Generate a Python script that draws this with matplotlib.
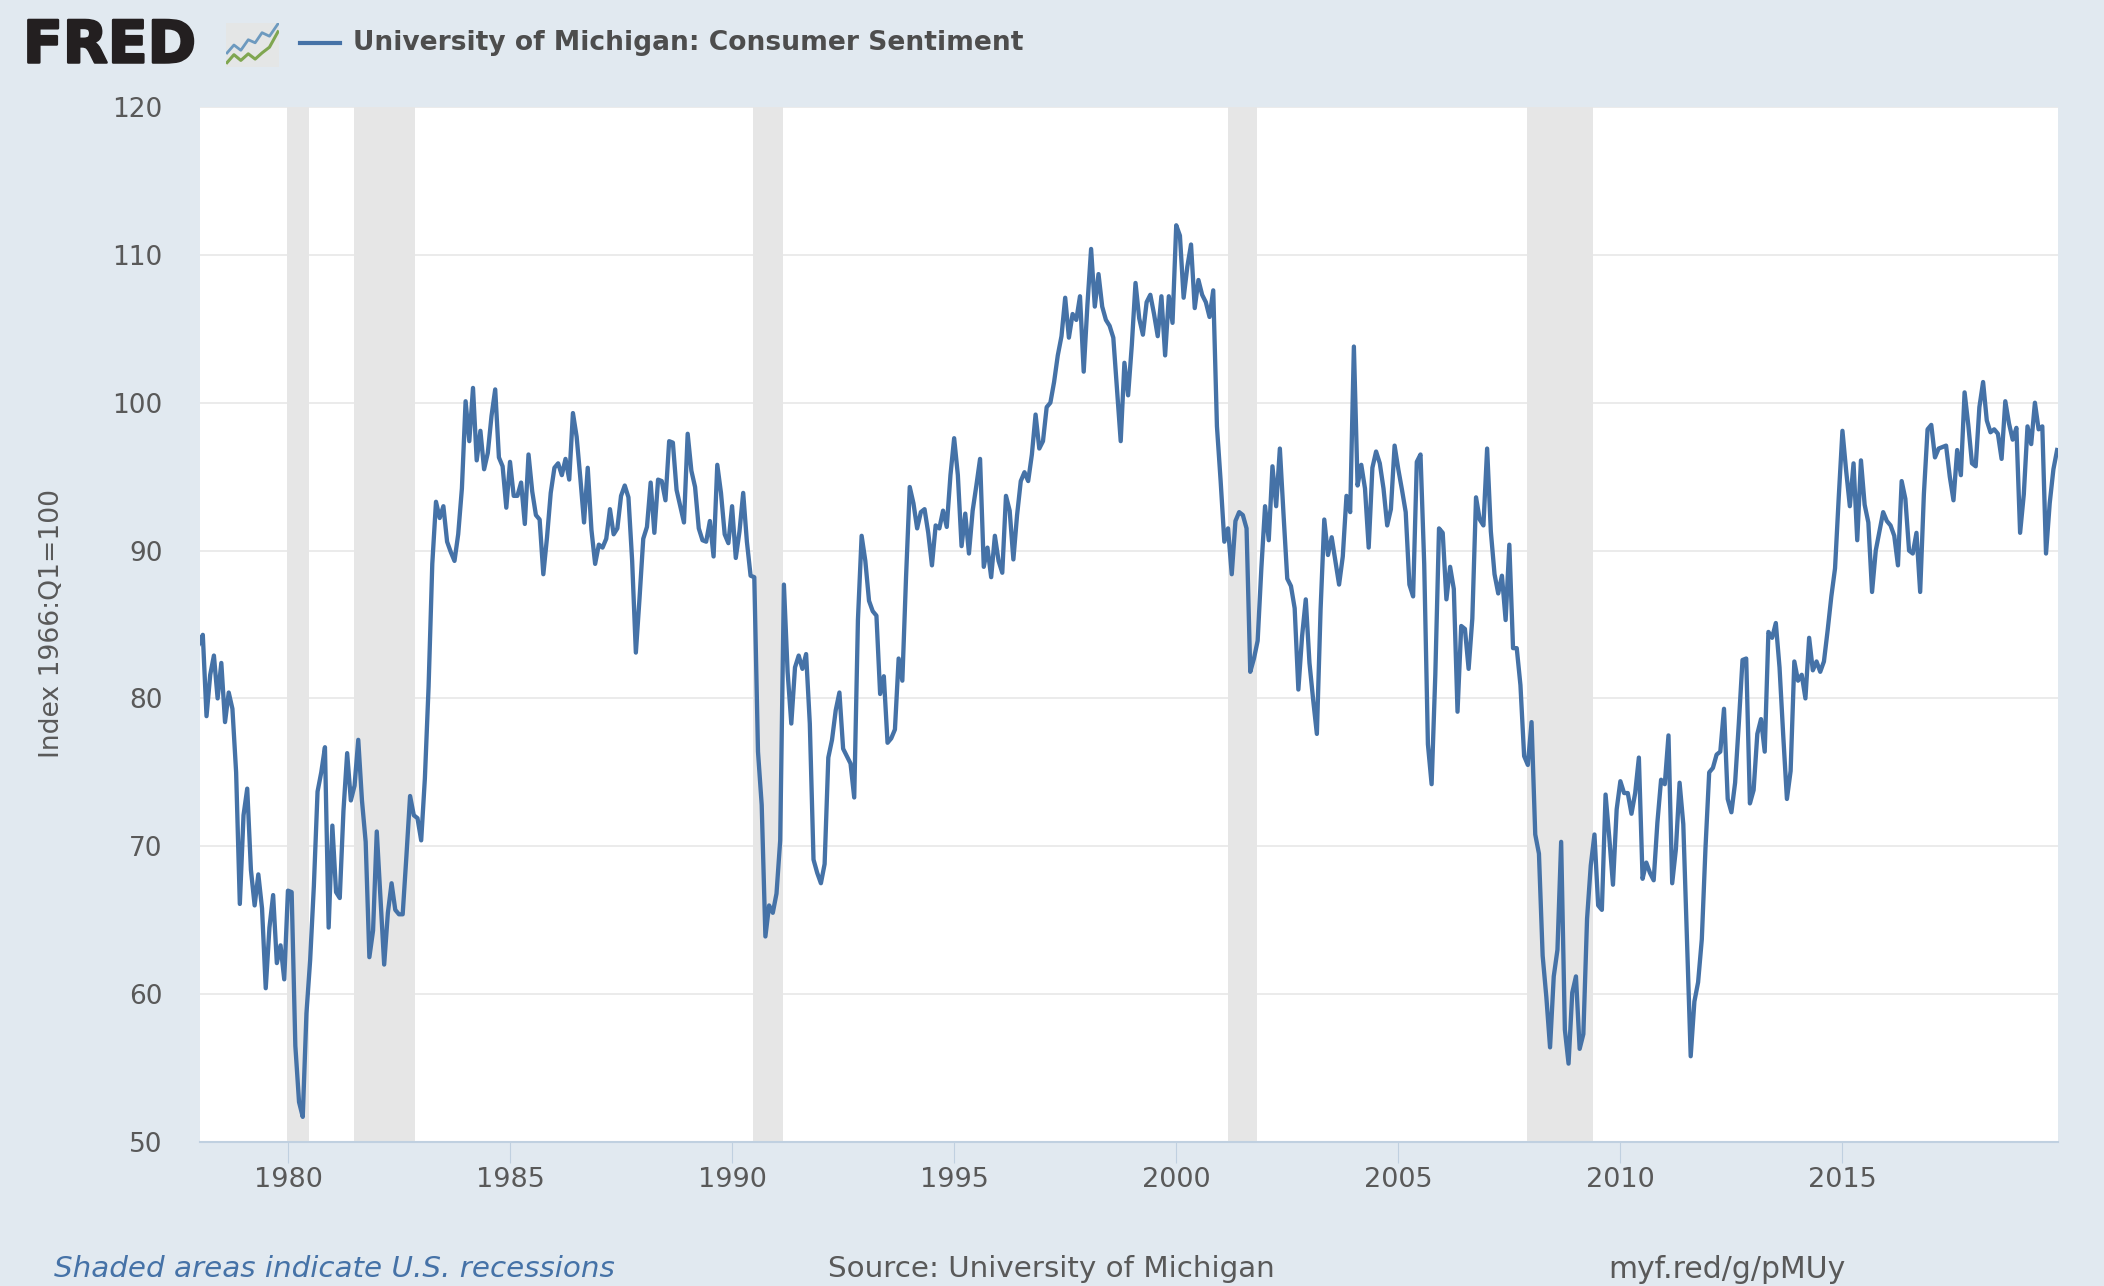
#!/usr/bin/env python3
"""University of Michigan consumer sentiment, monthly, styled like the FRED graph."""

import matplotlib

matplotlib.use("Agg")
import matplotlib.patheffects as pe
import matplotlib.pyplot as plt
import numpy as np
from matplotlib.patches import Rectangle

START_YEAR = 1978

# monthly index values, one row per year
sentiment = [
    83.7, 84.3, 78.8, 81.6, 82.9, 80.0, 82.4, 78.4, 80.4, 79.3, 75.0, 66.1,  # 1978
    72.1, 73.9, 68.4, 66.0, 68.1, 65.8, 60.4, 64.5, 66.7, 62.1, 63.3, 61.0,
    67.0, 66.9, 56.5, 52.7, 51.7, 58.7, 62.3, 67.3, 73.7, 75.0, 76.7, 64.5,  # 1980
    71.4, 66.9, 66.5, 72.4, 76.3, 73.1, 74.1, 77.2, 73.1, 70.3, 62.5, 64.3,
    71.0, 66.5, 62.0, 65.5, 67.5, 65.7, 65.4, 65.4, 69.3, 73.4, 72.1, 71.9,
    70.4, 74.6, 80.8, 89.1, 93.3, 92.2, 93.0, 90.6, 89.9, 89.3, 91.1, 94.2,
    100.1, 97.4, 101.0, 96.1, 98.1, 95.5, 96.6, 99.1, 100.9, 96.3, 95.7, 92.9,
    96.0, 93.7, 93.7, 94.6, 91.8, 96.5, 94.0, 92.4, 92.1, 88.4, 90.9, 93.9,  # 1985
    95.6, 95.9, 95.1, 96.2, 94.8, 99.3, 97.7, 94.9, 91.9, 95.6, 91.4, 89.1,
    90.4, 90.2, 90.8, 92.8, 91.1, 91.5, 93.7, 94.4, 93.6, 89.3, 83.1, 86.8,
    90.8, 91.6, 94.6, 91.2, 94.8, 94.7, 93.4, 97.4, 97.3, 94.1, 93.0, 91.9,
    97.9, 95.4, 94.3, 91.5, 90.7, 90.6, 92.0, 89.6, 95.8, 93.9, 91.1, 90.5,
    93.0, 89.5, 91.3, 93.9, 90.6, 88.3, 88.2, 76.4, 72.8, 63.9, 66.0, 65.5,  # 1990
    66.8, 70.4, 87.7, 81.8, 78.3, 82.1, 82.9, 82.0, 83.0, 78.3, 69.1, 68.2,
    67.5, 68.8, 76.0, 77.2, 79.2, 80.4, 76.6, 76.1, 75.6, 73.3, 85.3, 91.0,
    89.3, 86.6, 85.9, 85.6, 80.3, 81.5, 77.0, 77.3, 77.9, 82.7, 81.2, 88.2,
    94.3, 93.2, 91.5, 92.6, 92.8, 91.2, 89.0, 91.7, 91.5, 92.7, 91.6, 95.1,
    97.6, 95.1, 90.3, 92.5, 89.8, 92.7, 94.4, 96.2, 88.9, 90.2, 88.2, 91.0,  # 1995
    89.3, 88.5, 93.7, 92.7, 89.4, 92.4, 94.7, 95.3, 94.7, 96.5, 99.2, 96.9,
    97.4, 99.7, 100.0, 101.4, 103.2, 104.5, 107.1, 104.4, 106.0, 105.6, 107.2, 102.1,
    106.6, 110.4, 106.5, 108.7, 106.5, 105.6, 105.2, 104.4, 100.9, 97.4, 102.7, 100.5,
    103.9, 108.1, 105.7, 104.6, 106.8, 107.3, 106.0, 104.5, 107.2, 103.2, 107.2, 105.4,
    112.0, 111.3, 107.1, 109.2, 110.7, 106.4, 108.3, 107.3, 106.8, 105.8, 107.6, 98.4,  # 2000
    94.7, 90.6, 91.5, 88.4, 92.0, 92.6, 92.4, 91.5, 81.8, 82.7, 83.9, 88.8,
    93.0, 90.7, 95.7, 93.0, 96.9, 92.4, 88.1, 87.6, 86.1, 80.6, 84.2, 86.7,
    82.4, 79.9, 77.6, 86.0, 92.1, 89.7, 90.9, 89.3, 87.7, 89.6, 93.7, 92.6,
    103.8, 94.4, 95.8, 94.2, 90.2, 95.6, 96.7, 95.9, 94.2, 91.7, 92.8, 97.1,
    95.5, 94.1, 92.6, 87.7, 86.9, 96.0, 96.5, 89.1, 76.9, 74.2, 81.6, 91.5,  # 2005
    91.2, 86.7, 88.9, 87.4, 79.1, 84.9, 84.7, 82.0, 85.4, 93.6, 92.1, 91.7,
    96.9, 91.3, 88.4, 87.1, 88.3, 85.3, 90.4, 83.4, 83.4, 80.9, 76.1, 75.5,
    78.4, 70.8, 69.5, 62.6, 59.8, 56.4, 61.2, 63.0, 70.3, 57.6, 55.3, 60.1,
    61.2, 56.3, 57.3, 65.1, 68.7, 70.8, 66.0, 65.7, 73.5, 70.6, 67.4, 72.5,
    74.4, 73.6, 73.6, 72.2, 73.6, 76.0, 67.8, 68.9, 68.2, 67.7, 71.6, 74.5,  # 2010
    74.2, 77.5, 67.5, 69.8, 74.3, 71.5, 63.7, 55.8, 59.5, 60.8, 63.7, 69.9,
    75.0, 75.3, 76.2, 76.4, 79.3, 73.2, 72.3, 74.3, 78.3, 82.6, 82.7, 72.9,
    73.8, 77.6, 78.6, 76.4, 84.5, 84.1, 85.1, 82.1, 77.5, 73.2, 75.1, 82.5,
    81.2, 81.6, 80.0, 84.1, 81.9, 82.5, 81.8, 82.5, 84.6, 86.9, 88.8, 93.6,
    98.1, 95.4, 93.0, 95.9, 90.7, 96.1, 93.1, 91.9, 87.2, 90.0, 91.3, 92.6,  # 2015
    92.0, 91.7, 91.0, 89.0, 94.7, 93.5, 90.0, 89.8, 91.2, 87.2, 93.8, 98.2,
    98.5, 96.3, 96.9, 97.0, 97.1, 95.0, 93.4, 96.8, 95.1, 100.7, 98.5, 95.9,
    95.7, 99.7, 101.4, 98.8, 98.0, 98.2, 97.9, 96.2, 100.1, 98.6, 97.5, 98.3,
    91.2, 93.8, 98.4, 97.2, 100.0, 98.2, 98.4, 89.8, 93.2, 95.5, 96.8,
]

# recession start / end as decimal years
recession_start = [1979.98, 1981.48, 1990.48, 2001.17, 2007.9]
recession_end = [1980.48, 1982.85, 1991.14, 2001.82, 2009.38]

x_ticks = [1980, 1985, 1990, 1995, 2000, 2005, 2010, 2015]
y_ticks = [50, 60, 70, 80, 90, 100, 110, 120]

series_name = "University of Michigan: Consumer Sentiment"
y_title = "Index 1966:Q1=100"
note_left = "Shaded areas indicate U.S. recessions"
note_mid = "Source: University of Michigan"
note_right = "myf.red/g/pMUy"

# logo sparklines, in icon-relative units
logo_x = [0.02, 0.15, 0.28, 0.42, 0.55, 0.68, 0.82, 0.98]
logo_blue = [0.32, 0.50, 0.38, 0.62, 0.55, 0.78, 0.70, 0.98]
logo_green = [0.10, 0.28, 0.15, 0.30, 0.18, 0.32, 0.45, 0.80]

W, H = 2104, 1286
BG = "#e1e9f0"
LINE = "#4572a7"
TEXT = "#595959"
AXIS = "#c0d0e0"
SHADE = "#e6e6e6"
GRID = "#e8e8e8"


def fx(px):
    return px / W


def fy(py):
    return 1 - py / H


def draw_logo(fig):
    fig.text(fx(23), fy(46), "FRED", fontsize=42, fontweight="bold", color="#231f20",
             family="DejaVu Sans", ha="left", va="center",
             path_effects=[pe.withStroke(linewidth=1.8, foreground="#231f20")])
    icon = fig.add_axes([fx(226), fy(67), fx(53), 44 / H])
    icon.set_xlim(0, 1)
    icon.set_ylim(0, 1)
    icon.axis("off")
    icon.add_patch(Rectangle((0, 0), 1, 1, color="#e4e6e6"))
    icon.plot(logo_x, logo_blue, color="#6d9abf", lw=2)
    icon.plot(logo_x, logo_green, color="#7fa650", lw=2.2)


def main():
    fig = plt.figure(figsize=(W / 100, H / 100), dpi=100, facecolor=BG)
    ax = fig.add_axes([fx(200), fy(1142), fx(1858), (1142 - 107) / H])
    ax.set_facecolor("white")

    values = np.array(sentiment)
    dates = START_YEAR + np.arange(len(values)) / 12

    for start, end in zip(recession_start, recession_end):
        ax.axvspan(start, end, color=SHADE, lw=0, zorder=2)
    ax.plot(dates, values, color=LINE, lw=3.1, solid_joinstyle="round", zorder=3)

    ax.set_xlim(dates[0] + 0.02, dates[-1] + 0.02)
    ax.set_ylim(50, 120)
    ax.set_xticks(x_ticks)
    ax.set_yticks(y_ticks)
    ax.grid(axis="y", color=GRID, lw=1.2, zorder=1)
    ax.set_axisbelow(True)
    for name, spine in ax.spines.items():
        spine.set_visible(name == "bottom")
    ax.spines["bottom"].set_color(AXIS)
    ax.spines["bottom"].set_linewidth(1.5)
    ax.tick_params(axis="x", length=15, width=0.8, color=AXIS, labelcolor=TEXT,
                   labelsize=19.5, pad=3)
    ax.tick_params(axis="y", length=0, labelcolor=TEXT, labelsize=19, pad=27)

    fig.text(fx(52), fy(624), y_title, rotation=90, color=TEXT, fontsize=19.2,
             ha="center", va="center")

    draw_logo(fig)
    fig.add_artist(plt.Line2D([fx(300), fx(340)], [fy(43), fy(43)], color=LINE, lw=3))
    fig.text(fx(353), fy(43), series_name, color="#4d4d4d", fontsize=19.1,
             fontweight="bold", ha="left", va="center")

    fig.text(fx(54), fy(1269), note_left, color=LINE, fontsize=21.2, style="italic",
             ha="left", va="center")
    fig.text(fx(828), fy(1269), note_mid, color=TEXT, fontsize=21.2, ha="left", va="center")
    fig.text(fx(1608), fy(1269), note_right, color=TEXT, fontsize=21.5, ha="left", va="center")

    fig.savefig("out.png", dpi=100, facecolor=BG)
    plt.close(fig)


if __name__ == "__main__":
    main()
